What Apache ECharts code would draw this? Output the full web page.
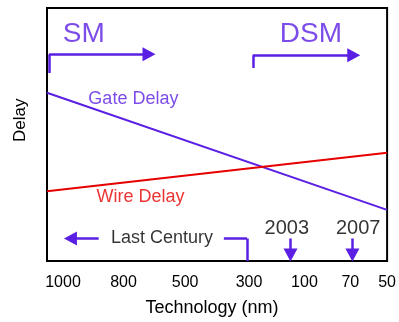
<!DOCTYPE html>
<html><head><meta charset="utf-8">
<script src="https://cdn.jsdelivr.net/npm/echarts@6/dist/echarts.min.js"></script>
<style>html,body{margin:0;padding:0;background:#fff}#c{width:399px;height:322px}</style>
</head><body><div id="c"></div>
<script>
// Data (x: relative position along technology axis 0..100, y: relative delay 0..100)
const techLabels = ['1000', '800', '500', '300', '100', '70', '50'];
const techPositions = [4.7, 22.5, 40.6, 59.4, 75.7, 89.2, 100];
const gateDelay = [[0, 66.5], [100, 20.2]];
const wireDelay = [[0, 27.6], [100, 42.8]];
// annotation texts: [x, y, text, size, colour]
const annotations = [
  [10.8, 89.8, 'SM', 'big', 'p'],
  [77.6, 89.8, 'DSM', 'big', 'p'],
  [25.4, 64.0, 'Gate Delay', 'mid', 'p'],
  [27.5, 25.1, 'Wire Delay', 'mid', 'r'],
  [33.8, 9.2, 'Last Century', 'mid', 'k'],
  [70.5, 13.0, '2003', 'yr', 'k'],
  [91.5, 13.0, '2007', 'yr', 'k']
];
// arrows / brackets: [[x1,y1],[x2,y2], arrowAtEnd]
const arrowSegments = [
  [[0.6, 74.3], [0.6, 81.7], false],
  [[0.6, 81.7], [30.0, 81.7], true],
  [[60.5, 76.3], [60.5, 81.3], false],
  [[60.5, 81.3], [90.2, 81.3], true],
  [[15.2, 8.9], [6.9, 8.9], true],
  [[52.0, 8.9], [58.8, 8.9], false],
  [[58.8, 8.9], [58.8, 0], false],
  [[71.6, 8.9], [71.6, 2.4], true],
  [[89.8, 8.9], [89.8, 2.4], true]
];

const PURPLE = '#5b1fe4', RED = '#e60000', BLACK = '#000';
const FONT = '"Liberation Sans", Arial, sans-serif';
const colorMap = {p: PURPLE, r: RED, k: BLACK};
const sizeMap = {big: 28, mid: 18, yr: 20};

const chart = echarts.init(document.getElementById('c'));
chart.setOption({
  animation: false,
  grid: {left: 47, right: 10.5, top: 8, bottom: 57, show: true, borderColor: '#000', borderWidth: 2, backgroundColor: 'transparent'},
  xAxis: {
    type: 'value', min: 0, max: 100,
    splitLine: {show: false},
    axisLine: {show: true, lineStyle: {color: '#000', width: 2}},
    axisTick: {show: false},
    axisLabel: {
      customValues: techPositions,
      formatter: function (v) { const i = techPositions.indexOf(v); return i >= 0 ? techLabels[i] : ''; },
      color: '#000', fontSize: 16, fontFamily: FONT, margin: 14, showMaxLabel: true, hideOverlap: false
    },
    name: 'Technology (nm)', nameLocation: 'middle', nameGap: 38,
    nameTextStyle: {color: '#000', fontSize: 18, fontFamily: FONT, padding: [0, 10, 0, 0]}
  },
  yAxis: {
    type: 'value', min: 0, max: 100,
    splitLine: {show: false},
    axisLine: {show: true, lineStyle: {color: '#000', width: 2}},
    axisTick: {show: false},
    axisLabel: {show: false}
  },
  graphic: [{
    type: 'text',
    style: {text: 'Delay', fontSize: 17, fontFamily: FONT, fill: '#000'},
    x: 12, y: 142, rotation: Math.PI / 2
  }],
  series: [
    {type: 'line', data: gateDelay, symbol: 'none', lineStyle: {color: PURPLE, width: 2}, silent: true},
    {type: 'line', data: wireDelay, symbol: 'none', lineStyle: {color: RED, width: 2}, silent: true},
    {
      type: 'scatter', symbolSize: 0, silent: true,
      data: annotations.map(a => ({
        value: [a[0], a[1]],
        label: {show: true, position: 'inside', formatter: a[2], color: colorMap[a[4]], fontSize: sizeMap[a[3]], fontFamily: FONT, align: 'center', verticalAlign: 'middle'}
      }))
    },
    {
      type: 'line', data: [], silent: true,
      markLine: {
        silent: true, animation: false,
        label: {show: false},
        lineStyle: {color: PURPLE, width: 2.5, type: 'solid'},
        data: arrowSegments.map(s => [
          {coord: s[0], symbol: 'none'},
          {coord: s[1], symbol: s[2] ? 'triangle' : 'none', symbolSize: [14, 13]}
        ])
      }
    }
  ]
});
</script></body></html>
